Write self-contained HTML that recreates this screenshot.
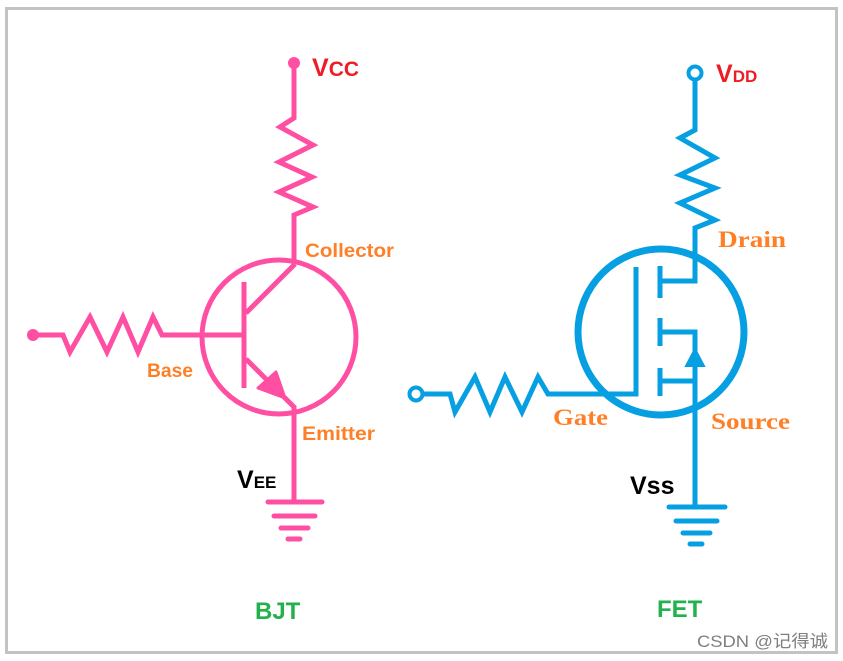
<!DOCTYPE html>
<html><head><style>
html,body{margin:0;padding:0;background:#fff;}
svg{display:block;}
</style></head><body>
<svg width="843" height="661" viewBox="0 0 843 661" xmlns="http://www.w3.org/2000/svg">
<rect x="6.5" y="8.5" width="830" height="644" fill="#fff" stroke="#c3c3c3" stroke-width="3"/>
<g stroke="#ff4fa3" stroke-width="5" fill="none" stroke-linejoin="miter" stroke-linecap="butt">
 <circle cx="279" cy="337" r="77"/>
 <polyline points="294,63 294,118 280,127 313,145 279,162 312,177 279,192 313,207 294,215 294,264"/>
 <polyline points="33,335 63,335 70,352 90,317 107,352 123,317 138,352 153,317 162,335 244,335"/>
 <line x1="244" y1="282" x2="244" y2="388"/>
 <line x1="246" y1="313" x2="295" y2="264"/>
 <line x1="246" y1="359" x2="295" y2="408"/>
 <line x1="294" y1="406" x2="294" y2="502"/>
 <g stroke-linecap="round">
 <line x1="268" y1="502" x2="322" y2="502"/>
 <line x1="274" y1="516" x2="315" y2="516"/>
 <line x1="281" y1="528" x2="308" y2="528"/>
 <line x1="288" y1="539" x2="300" y2="539"/>
 </g>
</g>
<circle cx="294" cy="63" r="6" fill="#ff4fa3"/>
<circle cx="33" cy="335" r="6" fill="#ff4fa3"/>
<polygon points="258,388 276,372 285,398" fill="#ff4fa3" stroke="#ff4fa3" stroke-width="3" stroke-linejoin="round"/>

<g stroke="#06a0e2" stroke-width="5" fill="none">
 <circle cx="661" cy="332" r="83" stroke-width="7"/>
 <circle cx="695" cy="73" r="6.5" stroke-width="4"/>
 <circle cx="416" cy="394" r="6.5" stroke-width="4"/>
 <polyline points="695,80 695,130 680,138 715,158 680,175 715,188 680,203 715,220 695,228 695,281 660,281"/>
 <polyline points="423,394 450,394 455,412 475,377 490,412 505,377 522,412 538,377 548,394 636,394 636,267"/>
 <line x1="660" y1="266" x2="660" y2="298"/>
 <line x1="660" y1="318" x2="660" y2="346"/>
 <line x1="660" y1="368" x2="660" y2="396"/>
 <polyline points="660,332 695,332 695,507"/>
 <line x1="660" y1="381" x2="695" y2="381"/>
 <g stroke-linecap="round">
 <line x1="669" y1="507" x2="725" y2="507"/>
 <line x1="676" y1="521" x2="717" y2="521"/>
 <line x1="683" y1="533" x2="710" y2="533"/>
 <line x1="690" y1="544" x2="702" y2="544"/>
 </g>
</g>
<polygon points="686,366 695,349 704,366" fill="#06a0e2" stroke="#06a0e2" stroke-width="2"/>

<g font-family="Liberation Sans, sans-serif" font-weight="bold">
 <text x="312" y="76" font-size="25" fill="#ee1c25">V<tspan font-size="21">CC</tspan></text>
 <text x="716" y="82" font-size="25" fill="#ee1c25">V<tspan font-size="17">DD</tspan></text>
 <text x="305" y="257" font-size="19" fill="#ff7f27" textLength="89" lengthAdjust="spacingAndGlyphs">Collector</text>
 <text x="147" y="377" font-size="19" fill="#ff7f27" textLength="46" lengthAdjust="spacingAndGlyphs">Base</text>
 <text x="302" y="440" font-size="19" fill="#ff7f27" textLength="73" lengthAdjust="spacingAndGlyphs">Emitter</text>
 <text x="237" y="488" font-size="25" fill="#000">V<tspan font-size="17">EE</tspan></text>
 <text x="630" y="494" font-size="25" fill="#000">Vss</text>
 <text x="255" y="619" font-size="24" fill="#22b14c">BJT</text>
 <text x="657" y="617" font-size="24" fill="#22b14c">FET</text>
</g>
<g font-family="Liberation Serif, serif" font-weight="bold" fill="#ff7f27" font-size="23">
 <text x="718" y="247" textLength="68" lengthAdjust="spacingAndGlyphs">Drain</text>
 <text x="553" y="425" textLength="55" lengthAdjust="spacingAndGlyphs">Gate</text>
 <text x="711" y="429" textLength="79" lengthAdjust="spacingAndGlyphs">Source</text>
</g>
<text x="697" y="647" font-family="Liberation Sans, 'Noto Sans CJK SC', sans-serif" font-size="17" fill="#7f7f7f" textLength="131" lengthAdjust="spacingAndGlyphs">CSDN @记得诚</text>
</svg>
</body></html>
